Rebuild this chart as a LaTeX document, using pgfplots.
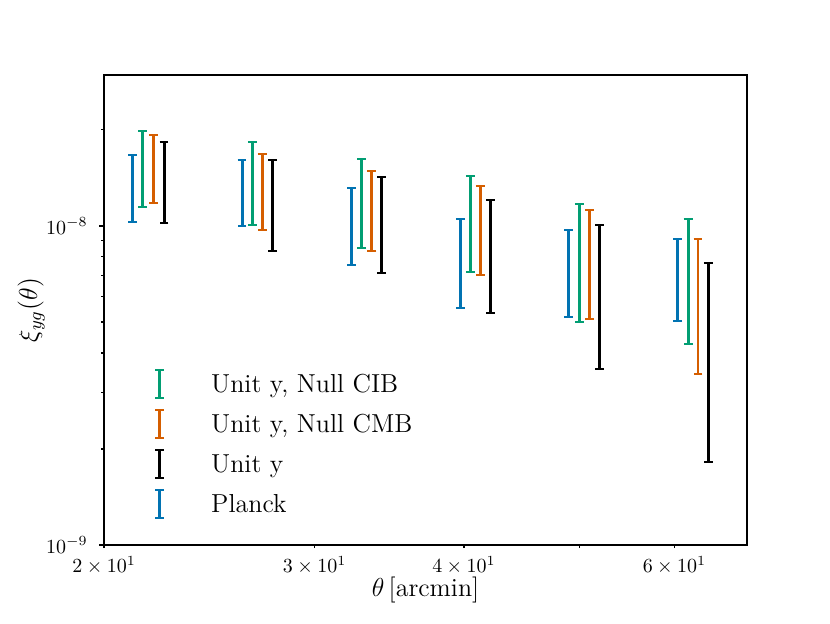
\documentclass[border=0pt]{standalone}
\usepackage{fix-cm}
\usepackage{fontspec}
\usepackage{pgfplots}
\pgfplotsset{compat=1.18}
\usepackage{pgfplotstable}
\definecolor{cP}{HTML}{0173B2}
\definecolor{cG}{HTML}{029E73}
\definecolor{cO}{HTML}{D55E00}
\definecolor{cB}{HTML}{000000}

\pgfplotstableread{
x y e
21.14 13.52e-9 3.21e-9
26.09 13.06e-9 3.08e-9
32.21 10.34e-9 2.79e-9
39.73 8.01e-9 2.48e-9
48.94 7.43e-9 2.26e-9
60.37 7.075e-9 2.045e-9
}\tabP
\pgfplotstableread{
x y e
21.55 15.64e-9 4.17e-9
26.61 14.235e-9 4.145e-9
32.86 12.37e-9 3.82e-9
40.50 10.75e-9 3.56e-9
49.95 8.365e-9 3.355e-9
61.60 7.40e-9 3.14e-9
}\tabG
\pgfplotstableread{
x y e
21.99 15.555e-9 3.775e-9
27.13 13.275e-9 3.535e-9
33.50 11.61e-9 3.26e-9
41.28 10.21e-9 3.17e-9
50.92 8.165e-9 3.055e-9
62.79 6.28e-9 2.84e-9
}\tabO
\pgfplotstableread{
x y e
22.45 14.29e-9 4.09e-9
27.68 12.255e-9 3.885e-9
34.15 10.675e-9 3.565e-9
42.10 8.705e-9 3.355e-9
51.94 6.81e-9 3.26e-9
64.05 4.73e-9 2.91e-9
}\tabB

\pgfplotsset{
  ebar/.style={draw=none, mark=none, forget plot,
    error bars/.cd, y dir=both, y explicit,
    error bar style={draw=#1, line width=1.45pt},
    error mark options={draw=#1, rotate=90, line width=1pt, mark size=2.2pt}},
  limg/.style={legend image code/.code={
    \draw[#1, line width=1.45pt] (0pt,-5.6pt) -- (0pt,8.4pt);
    \draw[#1, line width=1pt] (-2.2pt,-5.6pt) -- (2.2pt,-5.6pt) (-2.2pt,8.4pt) -- (2.2pt,8.4pt);}}
}

\begin{document}
\begin{tikzpicture}
\begin{axis}[
  name=ax,
  scale only axis,
  width=321.5pt, height=235pt,
  xmode=log, ymode=log,
  xmin=20, xmax=69,
  ymin=1e-9, ymax=2.97e-8,
  axis line style={line width=0.7pt},
  tick align=outside,
  tick pos=left,
  tick style={line width=0.6pt, black},
  major tick length=2.5pt,
  minor tick length=1.5pt,
  xtick={20,30,40,50,60},
  xticklabels={$2\times10^{1}$,$3\times10^{1}$,$4\times10^{1}$,,$6\times10^{1}$},
  xtick style={/pgfplots/major tick length=1.5pt},
  minor xtick={},
  ytick={1e-9,1e-8},
  minor ytick={2e-9,3e-9,4e-9,5e-9,6e-9,7e-9,8e-9,9e-9,2e-8,3e-8},
  ticklabel style={font=\fontsize{10}{12}\selectfont},
  xticklabel style={anchor=base, yshift=-11.35pt},
  yticklabel style={anchor=east, inner sep=0pt, xshift=-5.5pt},
  xlabel={$\theta\,[\mathrm{arcmin}]$},
  ylabel={$\xi_{yg}(\theta)$},
  label style={font=\fontsize{13}{15.6}\selectfont},
  xlabel style={at={(axis description cs:0.5,-0.1085)}, anchor=base, inner sep=0pt},
  ylabel style={at={(axis description cs:-0.0918,0.5)}, anchor=south, inner sep=0pt},
  legend cell align=left,
  legend style={draw=none, fill=none, at={(0.0778,0.3766)}, anchor=north west,
    inner sep=0pt, row sep=4.6pt, column sep=23pt,
    font=\fontsize{13}{15.6}\selectfont,
    nodes={inner sep=0pt, text depth=3pt, text height=9pt}},
]
\addplot[ebar=cP] table[x=x, y=y, y error=e] {\tabP};
\addplot[ebar=cG] table[x=x, y=y, y error=e] {\tabG};
\addplot[ebar=cO] table[x=x, y=y, y error=e] {\tabO};
\addplot[ebar=cB] table[x=x, y=y, y error=e] {\tabB};
\addlegendimage{limg=cG}
\addlegendentry{Unit y, Null CIB}
\addlegendimage{limg=cO}
\addlegendentry{Unit y, Null CMB}
\addlegendimage{limg=cB}
\addlegendentry{Unit y}
\addlegendimage{limg=cP}
\addlegendentry{Planck}
\end{axis}
\pgfresetboundingbox
\path[use as bounding box] (ax.south west) ++(-52pt,-39pt) rectangle ++(415pt,311.5pt);
\end{tikzpicture}
\end{document}
